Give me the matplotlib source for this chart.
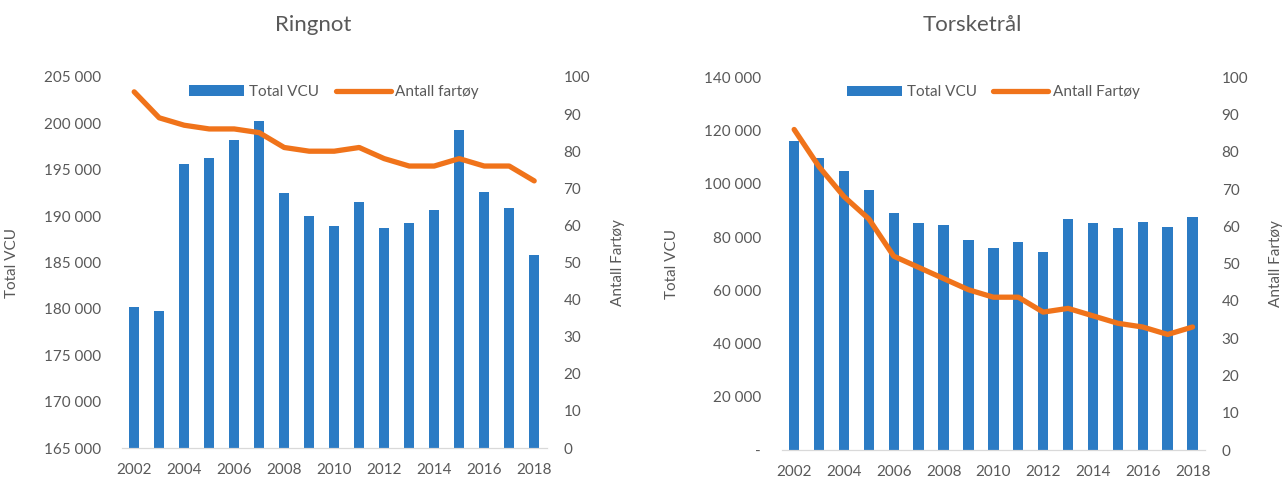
import matplotlib.pyplot as plt
from matplotlib.ticker import FuncFormatter

plt.rcParams['font.family'] = ['Lato', 'DejaVu Sans']

years = list(range(2002, 2019))

# Ringnot
ringnot_vcu = [180200, 179800, 195600, 196300, 198250, 200300, 192500, 190050,
               188900, 191500, 188700, 189250, 190700, 199250, 192600, 190900, 185850]
ringnot_fartoy = [96, 89, 87, 86, 86, 85, 81, 80, 80, 81, 78, 76, 76, 78, 76, 76, 72]

# Torsketrål
torsk_vcu = [116200, 109800, 104900, 97700, 89150, 85300, 84400, 78800,
             75800, 78300, 74500, 86700, 85300, 83500, 85800, 83900, 87600]
torsk_fartoy = [86, 76, 68, 62, 52, 49, 46, 43, 41, 41, 37, 38, 36, 34, 33, 31, 33]

blue = '#2B7BC4'
orange = '#F0731A'
grey = '#595959'

fig = plt.figure(figsize=(12.88, 4.8), dpi=100)


def thousands(v, pos):
    if v == 0:
        return '-'
    return f'{int(v):,}'.replace(',', ' ')


def draw(rect, title, vcu, fartoy, ylim, ystep, line_label, zero_dash):
    ax = fig.add_axes(rect)
    x = list(range(len(years)))
    bars = ax.bar(x, vcu, width=0.42, color=blue, label='Total VCU', zorder=2)
    ax.set_ylim(*ylim)
    ax.set_yticks(range(ylim[0], ylim[1] + 1, ystep))
    if zero_dash:
        ax.yaxis.set_major_formatter(FuncFormatter(thousands))
    else:
        ax.yaxis.set_major_formatter(FuncFormatter(lambda v, p: f'{int(v):,}'.replace(',', ' ')))
    ax.set_xlim(-0.5, len(years) - 0.5)
    ax.set_xticks(x[::2])
    ax.set_xticklabels([str(y) for y in years[::2]])
    ax.set_ylabel('Total VCU', color=grey, fontsize=11)
    ax.yaxis.set_label_coords(-0.242, 0.5)
    # title centred over the whole chart block, not just the plot area
    ax.set_title(title, color=grey, fontsize=16, pad=33, x=0.45)

    ax2 = ax.twinx()
    line, = ax2.plot(x, fartoy, color=orange, lw=3.8, solid_joinstyle='round',
                     solid_capstyle='round', label=line_label, zorder=3)
    ax2.set_ylim(0, 100)
    ax2.set_yticks(range(0, 101, 10))
    ax2.set_ylabel('Antall Fartøy', color=grey, fontsize=11)
    ax2.yaxis.set_label_coords(1.152, 0.5)

    for a in (ax, ax2):
        for s in ('top', 'left', 'right'):
            a.spines[s].set_visible(False)
        a.spines['bottom'].set_color('#d9d9d9')
        a.tick_params(length=0, colors=grey, labelsize=11)
    ax.tick_params(axis='y', pad=15)
    ax.tick_params(axis='x', pad=11)
    ax2.tick_params(axis='y', pad=12)

    leg = ax2.legend([bars, line], ['Total VCU', line_label], loc='upper center',
                     bbox_to_anchor=(0.5, 0.995), ncol=2, frameon=False,
                     fontsize=11, handlelength=3.6, handletextpad=0.3,
                     columnspacing=1.1, borderaxespad=0.0)
    for t in leg.get_texts():
        t.set_color(grey)
    return ax


draw([121.7 / 1288, 32 / 480, 425 / 1288, 371 / 480], 'Ringnot',
     ringnot_vcu, ringnot_fartoy, (165000, 205000), 5000, 'Antall fartøy', False)
draw([781.7 / 1288, 30 / 480, 423.3 / 1288, 372.7 / 480], 'Torsketrål',
     torsk_vcu, torsk_fartoy, (0, 140000), 20000, 'Antall Fartøy', True)

fig.savefig('out.png', dpi=100)
